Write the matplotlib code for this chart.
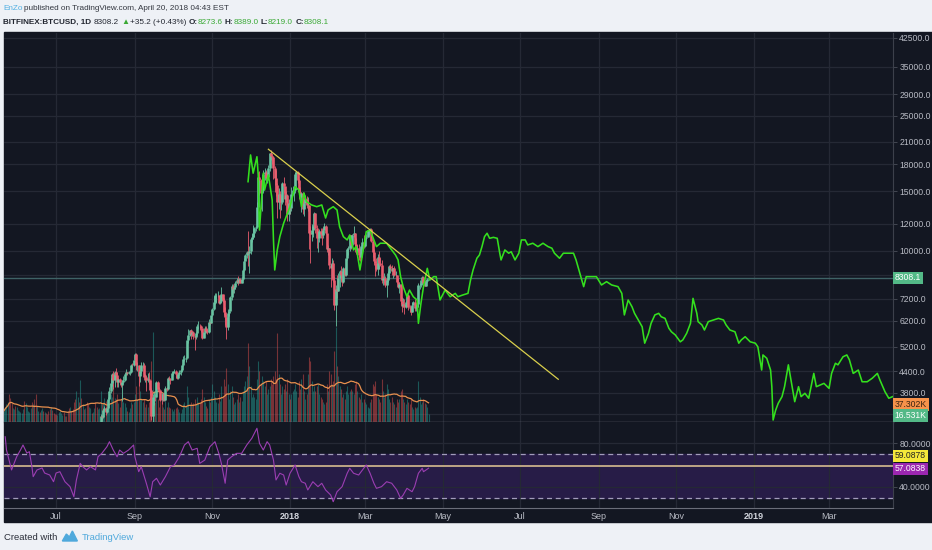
import numpy as np
import pandas as pd
import matplotlib
matplotlib.use('Agg')
import matplotlib.pyplot as plt
import matplotlib.dates as mdates
import matplotlib.transforms as mtransforms
from matplotlib.patches import Rectangle, Polygon
from matplotlib.ticker import FixedLocator, FuncFormatter, NullLocator
from datetime import datetime

W, H = 932, 550
FONT = ['Liberation Sans Narrow', 'Liberation Sans', 'DejaVu Sans']
plt.rcParams['font.family'] = FONT

## daily BTCUSD closes from 2017-05-21 to 2018-04-20
first_day = '2017-05-21'
first_open = 2000
closes = [
    2050, 2150, 2290, 2450, 2320, 2230, 2100, 2200, 2300, 2220, 2420,  # May
    2460, 2500, 2520, 2540, 2870, 2700, 2810, 2840, 2840, 2950,
    2990, 2680, 2740, 2510, 2460, 2500, 2630, 2540, 2610, 2750,
    2700, 2720, 2710, 2610, 2580, 2480, 2580, 2560, 2550, 2480,  # Jun
    2420, 2510, 2580, 2600, 2610, 2610, 2510, 2560, 2510, 2350,
    2340, 2400, 2360, 2230, 1970, 1930, 2230, 2320, 2260, 2870,
    2660, 2840, 2750, 2760, 2580, 2550, 2680, 2800, 2730, 2760, 2880,  # Jul
    2720, 2710, 2800, 2890, 3250, 3220, 3390, 3420, 3340, 3420,
    3650, 3850, 4060, 4330, 4160, 4380, 4280, 4100, 4190, 4090,
    4000, 4100, 4150, 4330, 4370, 4350, 4380, 4380, 4590, 4580, 4740,  # Aug
    4950, 4580, 4600, 4250, 4400, 4600, 4600, 4230, 4230, 4160,
    4190, 4150, 3870, 3240, 3700, 3700, 3690, 4100, 3900, 3880,
    3620, 3610, 3790, 3630, 3930, 3890, 4210, 4190, 4160, 4340,  # Sep
    4400, 4410, 4310, 4220, 4320, 4370, 4440, 4610, 4780, 4780,
    4830, 5440, 5640, 5830, 5680, 5750, 5600, 5570, 5700, 6000,
    6000, 5980, 5900, 5520, 5750, 5900, 5780, 5750, 6150, 6130, 6450,  # Oct
    6740, 7030, 7380, 7400, 7400, 7000, 7120, 7450, 7140, 6610,
    6350, 5950, 6560, 6620, 7300, 7850, 7700, 7790, 8040, 8200,
    8100, 8250, 8040, 8250, 8750, 9300, 9730, 9900, 9840, 9950,  # Nov
    10850, 10950, 11280, 11700, 11720, 13500, 16500, 16200, 14800, 15100,
    16800, 17100, 16400, 16500, 17600, 19400, 19100, 18900, 17500, 16400,
    15600, 13900, 14700, 13900, 13900, 15800, 15500, 14200, 14600, 12800, 13850,  # Dec
    13400, 14750, 15100, 15150, 16900, 17100, 16200, 14900, 14450, 14850,
    13250, 13800, 14200, 13600, 13600, 11300, 11200, 11500, 11800, 12900,
    11700, 10900, 10900, 11400, 11200, 11100, 11500, 11800, 11300, 10100, 10200,  # Jan
    9100, 8900, 9200, 8200, 6900, 7700, 7600, 8300, 8700, 8500,
    8100, 8900, 8500, 9500, 10100, 10200, 11100, 10400, 11100, 11300,
    10500, 9900, 10200, 9700, 9600, 10300, 10600, 10300,  # Feb
    10900, 11000, 11500, 11500, 11600, 10700, 9900, 9300, 9200, 8800,
    9600, 9200, 9100, 8200, 8300, 8300, 7900, 8200, 8600, 9000,
    8900, 8700, 8900, 8500, 8500, 8100, 7800, 7950, 7100, 6850, 6950,  # Mar
    6800, 7050, 7400, 6800, 6780, 6600, 6900, 7030, 6770, 6830,
    6950, 7900, 7900, 8000, 8350, 8050, 7890, 8160, 8270, 8308.1,  # Apr
]

## highs / lows of the candles from 2017-08-01
candle_start = 72
highs = [
    2930, 2760, 2820, 2900, 3290, 3280, 3410, 3480, 3450, 3440,
    3700, 3950, 4200, 4350, 4420, 4400, 4490, 4380, 4200, 4200,
    4100, 4160, 4270, 4360, 4460, 4380, 4420, 4400, 4620, 4650, 4760,
    4980, 4970, 4700, 4600, 4450, 4700, 4700, 4660, 4330, 4300,
    4360, 4380, 4160, 3930, 3760, 3820, 3770, 4120, 4120, 3950,
    3880, 3760, 3800, 3800, 3970, 3950, 4240, 4260, 4210, 4370,
    4420, 4480, 4440, 4350, 4360, 4440, 4470, 4620, 4880, 4920,
    4860, 5450, 5860, 5850, 5860, 5800, 5780, 5600, 5740, 6080,
    6200, 6090, 6050, 5900, 5770, 5990, 6000, 5880, 6300, 6200, 6470,
    6760, 7340, 7500, 7500, 7620, 7420, 7220, 7800, 7450, 7250,
    6800, 6500, 6730, 6720, 7340, 7960, 7990, 7880, 8120, 8300,
    8400, 8300, 8300, 8350, 8800, 9500, 9780, 10000, 11400, 10300,
    10900, 11200, 11900, 11750, 11850, 13900, 17100, 17200, 16300, 15700,
    17300, 17500, 17300, 16900, 17900, 19400, 19890, 19200, 19000, 17800,
    17300, 15900, 15300, 15000, 14500, 16000, 16500, 15500, 15000, 14700, 14200,
    14000, 15400, 15500, 15350, 17100, 17250, 17150, 16300, 15400, 14900,
    14900, 14100, 14600, 14500, 14400, 13600, 11800, 12000, 11950, 13000,
    12900, 11900, 11400, 11600, 11700, 11700, 11700, 12100, 11900, 11300, 10400,
    10200, 9150, 9500, 9400, 8400, 7900, 8500, 8600, 8750, 9000,
    8500, 8950, 8950, 9500, 10200, 10300, 11100, 11100, 11200, 11800,
    11300, 10900, 10400, 10500, 9900, 10400, 10900, 11100,
    11100, 11200, 11550, 11550, 11700, 11700, 10900, 10100, 9400, 9500,
    9750, 9950, 9500, 9400, 8400, 8600, 8400, 8300, 8700, 9100,
    9150, 9100, 8900, 9000, 8700, 8500, 8300, 8100, 7950, 7300, 7250,
    7200, 7100, 7500, 7450, 6900, 6850, 7050, 7100, 7200, 6900,
    6980, 8000, 8200, 8150, 8400, 8400, 8200, 8200, 8300, 8390,
]
lows = [
    2680, 2650, 2700, 2790, 2880, 3150, 3200, 3360, 3270, 3320,
    3410, 3620, 3800, 3980, 3900, 3950, 4240, 3950, 3950, 4050,
    3950, 3600, 4060, 4130, 4300, 4300, 4330, 4280, 4350, 4510, 4560,
    4700, 4450, 4400, 3980, 4100, 4350, 4510, 4150, 4100, 3850,
    4100, 4050, 3750, 3150, 2970, 3500, 3600, 3690, 3850, 3860,
    3600, 3530, 3600, 3600, 3610, 3850, 3880, 4150, 4040, 4150,
    4280, 4360, 4200, 4180, 4180, 4280, 4300, 4420, 4550, 4720,
    4680, 4820, 5350, 5580, 5500, 5580, 5500, 5100, 5500, 5620,
    5870, 5830, 5770, 5470, 5520, 5700, 5700, 5680, 5700, 6050, 6100,
    6400, 6700, 6980, 7000, 7300, 6950, 6960, 7050, 7060, 6450,
    6050, 5500, 5850, 6420, 6620, 7130, 7500, 7500, 7700, 8000,
    7900, 8050, 8000, 8000, 8200, 8700, 9300, 9500, 9000, 8600,
    9800, 10600, 10800, 11000, 11400, 11650, 13300, 14600, 13300, 13100,
    15000, 16200, 15900, 15900, 16200, 17200, 18500, 18000, 16300, 14900,
    14500, 12500, 13300, 12500, 13200, 13700, 14800, 13600, 13900, 12200, 12200,
    12800, 13100, 14600, 14000, 14800, 16200, 15800, 14200, 14000, 13000,
    12800, 12700, 13800, 13400, 13100, 10100, 9200, 10700, 11000, 11600,
    11300, 10200, 9900, 10600, 10900, 10400, 10900, 11500, 11200, 9900, 9700,
    8800, 7800, 8300, 8100, 6700, 6000, 7250, 7600, 7800, 8200,
    7850, 8000, 8400, 8400, 9400, 9700, 10000, 10100, 10300, 11000,
    10300, 9800, 9600, 9400, 9300, 9400, 10100, 10200,
    10250, 10800, 11000, 11100, 11400, 10600, 9600, 9100, 8400, 8700,
    8500, 8800, 9000, 8000, 7900, 8000, 7800, 7300, 8100, 8300,
    8800, 8500, 8300, 8400, 8400, 8000, 7750, 7500, 6950, 6600, 6800,
    6500, 6750, 7000, 6700, 6600, 6450, 6570, 6900, 6650, 6650,
    6800, 6800, 7700, 7800, 7950, 8000, 7850, 7850, 8100, 8219,
]

## daily volume in thousands of BTC, one line per week starting 2017-05-21
volume = [
    22, 30, 35, 40, 55, 48, 38,
    28, 25, 32, 30, 24, 22, 20,
    18, 25, 42, 38, 30, 22, 20,
    28, 40, 36, 45, 55, 32, 22,
    20, 24, 28, 22, 20, 18, 16,
    22, 25, 30, 24, 18, 16, 15,
    14, 20, 22, 18, 14, 20, 12,
    12, 22, 28, 30, 22, 26, 40,
    45, 60, 50, 40, 82, 48, 35,
    25, 28, 40, 36, 30, 28, 18,
    20, 28, 40, 30, 25, 28, 60,
    35, 40, 48, 42, 30, 40, 45,
    55, 50, 75, 48, 45, 55, 38,
    30, 45, 55, 40, 38, 30, 22,
    20, 28, 40, 35, 40, 55, 70,
    45, 95, 60, 45, 40, 45, 30,
    35, 30, 40, 70, 120, 176, 60,
    40, 55, 45, 30, 55, 40, 30,
    25, 45, 30, 40, 30, 28, 25,
    22, 25, 28, 30, 25, 20, 18,
    25, 35, 40, 32, 70, 50, 35,
    40, 35, 38, 45, 35, 50, 40,
    38, 45, 65, 50, 40, 32, 28,
    45, 40, 50, 75, 60, 50, 40,
    38, 55, 42, 70, 50, 85, 70,
    105, 75, 45, 60, 70, 50, 35,
    40, 45, 55, 40, 50, 42, 60,
    70, 80, 90, 155, 110, 70, 50,
    55, 50, 45, 85, 120, 100, 75,
    90, 80, 70, 80, 55, 65, 70,
    85, 75, 90, 100, 85, 174, 95,
    75, 55, 70, 65, 75, 60, 85,
    55, 45, 55, 60, 65, 75, 60,
    50, 80, 65, 85, 95, 60, 45,
    55, 95, 127, 120, 80, 60, 70,
    60, 70, 75, 55, 50, 45, 40,
    35, 40, 75, 60, 100, 95, 75,
    80, 140, 186, 110, 90, 70, 65,
    50, 55, 45, 60, 70, 55, 60,
    65, 60, 55, 75, 80, 60, 50,
    45, 55, 40, 45, 40, 35, 30,
    28, 40, 45, 75, 70, 80, 55,
    50, 45, 40, 85, 60, 50, 55,
    75, 65, 45, 40, 50, 40, 35,
    30, 45, 40, 45, 60, 65, 45,
    40, 35, 45, 40, 35, 45, 30,
    25, 30, 28, 30, 80, 50, 35,
    40, 45, 38, 35, 30, 16.5,
]

## RSI (days after 2018-01-01)
rsi_days = [
    -224, -223, -219, -215, -212, -210, -207, -205, -203, -202,
    -199, -195, -193, -189, -186, -184, -181, -177, -173, -170,
    -168, -165, -163, -160, -157, -153, -151, -148, -144, -142,
    -139, -136, -134, -131, -127, -123, -122, -119, -117, -113,
    -110, -108, -105, -102, -98, -94, -91, -87, -83, -80,
    -77, -73, -71, -67, -63, -59, -56, -54, -51, -49,
    -46, -42, -38, -34, -30, -26, -24, -21, -18, -16,
    -13, -11, -8, -5, -3, 0, 4, 7, 9, 12,
    14, 18, 22, 25, 28, 32, 34, 37, 41, 45,
    47, 50, 54, 58, 60, 63, 66, 68, 72, 76,
    80, 84, 87, 89, 92, 96, 98, 101, 104, 105, 109,
]
rsi_vals = [
    85.7, 73.6, 55.5, 67.5, 73.6, 78.2, 70.9, 72.1, 58.5, 49.4,
    55.5, 57.3, 52.7, 50.9, 44.8, 52.7, 53.9, 44.8, 40.3, 31.2,
    46.4, 61.5, 58.5, 55.5, 58.5, 55.5, 67.5, 70.6, 76.6, 81.2,
    73.6, 67.5, 73.6, 70.6, 73.6, 78.2, 67.5, 53.9, 58.5, 43.4,
    31.2, 44.8, 47.9, 41.8, 49.4, 58.5, 60.0, 67.5, 78.2, 81.2,
    73.6, 75.2, 61.5, 64.5, 76.6, 81.2, 70.6, 61.5, 43.4, 64.5,
    67.5, 70.6, 70.6, 78.2, 84.3, 93.4, 79.7, 73.6, 81.2, 78.2,
    64.5, 46.4, 52.5, 50.9, 41.8, 52.5, 60.0, 49.4, 44.8, 43.4,
    37.3, 44.8, 40.3, 43.4, 37.3, 32.7, 26.6, 35.7, 40.3, 52.5,
    57.0, 52.5, 50.9, 57.0, 60.0, 52.5, 43.4, 38.8, 40.3, 44.8,
    43.4, 37.3, 29.7, 32.7, 38.8, 35.7, 40.3, 52.5, 57.0, 53.9, 57.08,
]

## green projected path (days after 2018-01-01, price)
proj_days = [
    -33, -31, -29, -26, -25, -24, -21, -20, -17, -14,
    -13, -12, -10, -8, -5, -3, 0, 4, 7, 9,
    11, 13, 17, 21, 25, 28, 30, 34, 37, 39,
    42, 45, 47, 50, 52, 55, 58, 60, 63, 66,
    68, 71, 76, 80, 83, 85, 87, 89, 92, 94,
    97, 100, 101, 103, 105, 108, 110, 113, 115, 118,
    122, 126, 130, 132, 136, 140, 142, 144, 147, 149,
    151, 153, 155, 157, 160, 163, 165, 166, 169, 172,
    174, 177, 180, 182, 185, 187, 191, 195, 199, 203,
    206, 208, 212, 215, 219, 223, 225, 228, 231, 233,
    237, 241, 245, 249, 253, 258, 261, 263, 266, 269,
    271, 274, 277, 279, 282, 284, 287, 290, 292, 295,
    298, 300, 303, 307, 309, 312, 315, 317, 320, 321,
    324, 326, 329, 333, 337, 341, 343, 346, 350, 353,
    355, 358, 362, 366, 368, 371, 372, 375, 378, 379,
    380, 382, 384, 387, 389, 392, 395, 397, 400, 402,
    405, 408, 412, 414, 417, 420, 424, 426, 429, 431,
    435, 438, 440, 443, 447, 450, 454, 458, 462, 464,
    468, 471, 474,
]
proj_prices = [
    15990, 19180, 16940, 18950, 16740, 11510, 16940, 15110, 16740, 14120,
    10760, 8770, 10050, 11000, 12050, 12600, 13490, 15450, 15110, 13490,
    14810, 13960, 13650, 13490, 13650, 12490, 13190, 13490, 13190, 11770,
    11000, 10760, 11130, 10050, 10280, 8770, 10280, 11380, 11510, 10760,
    10280, 10520, 10520, 10050, 9710, 9390, 8380, 7830, 7310, 7650,
    7310, 7150, 6100, 6990, 7830, 8870, 8190, 8380, 8380, 7150,
    7650, 7310, 7480, 7310, 7400, 7480, 8190, 8770, 9500, 9710,
    10280, 11000, 11260, 10880, 10950, 10880, 9830, 9390, 10050, 9830,
    9930, 9390, 9830, 10760, 10760, 10400, 10520, 10280, 10520, 10280,
    10170, 9830, 9500, 9830, 9830, 9830, 9390, 8570, 7830, 8380,
    8380, 8380, 7920, 8100, 7920, 7830, 7480, 6460, 7150, 6830,
    6530, 6240, 5960, 5330, 5700, 6100, 6460, 6530, 6380, 6310,
    5900, 5760, 5640, 5380, 5450, 5700, 6100, 7230, 6530, 6170,
    6035, 5830, 6170, 6240, 6310, 6240, 6035, 5830, 5760, 5330,
    5450, 5570, 5380, 5330, 5200, 4440, 4920, 4810, 4440, 3965,
    3160, 3380, 3540, 3705, 3965, 4600, 3965, 3580, 3965, 3705,
    3790, 3665, 4340, 3965, 4010, 4055, 3920, 4340, 4650, 4600,
    4860, 4920, 4760, 4340, 4440, 4100, 4100, 4200, 4340, 4150,
    3830, 3665, 3705,
]

trend_dates = ['2017-12-15', '2018-07-31']
trend_prices = [19940, 4170]

price_ticks = [3800, 4400, 5200, 6200, 7200, 10000, 12000, 15000,
               18000, 21000, 25000, 29000, 35000, 42500]
extra_grid = [3300, 8500]
rsi_ticks = [40, 80]
month_ticks = ['2017-07-01', '2017-09-01', '2017-11-01', '2018-01-01', '2018-03-01',
               '2018-05-01', '2018-07-01', '2018-09-01', '2018-11-01', '2019-01-01',
               '2019-03-01']
month_labels = ['Jul', 'Sep', 'Nov', '2018', 'Mar', 'May', 'Jul', 'Sep', 'Nov', '2019', 'Mar']

last_close = 8308.1
vol_ma_text = '37.302K'
vol_text = '16.531K'
rsi_level = 59.0878
rsi_last = 57.0838

## colours
BG = '#131722'
GRID = '#252935'
TXT = '#b8bbc4'
UP, DOWN = '#69c3a2', '#e95d6e'

base = mdates.date2num(datetime(2018, 1, 1))
dates = pd.date_range(first_day, periods=len(closes))
x_all = mdates.date2num(dates.to_pydatetime())
closes = np.array(closes, float)
opens = np.r_[first_open, closes[:-1]]
up = closes >= opens
vol = np.array(volume, float)

fig = plt.figure(figsize=(W / 100, H / 100), dpi=100, facecolor='#eef1f6')
panel = Rectangle((4 / W, 1 - 522 / H), 928 / W, 490 / H,
                  transform=fig.transFigure, color=BG, zorder=-10)
fig.add_artist(panel)

##main price pane
ax = fig.add_axes([4 / W, 1 - 422 / H, 889 / W, 389 / H])
ax.set_facecolor(BG)
ax.set_yscale('log')
ax.set_ylim(3118, 43970)
ax.set_xlim(base - 224.95, base + 474.3)
month_x = mdates.datestr2num(month_ticks)

for p in extra_grid:
    ax.axhline(p, color=GRID, lw=0.9, zorder=0.5)

##volume overlay
vt = mtransforms.blended_transform_factory(ax.transData, ax.transAxes)
VOL_TOP = 763.0
ax.vlines(x_all[up], 0, vol[up] / VOL_TOP, transform=vt, colors='#26a69a',
          alpha=0.45, lw=0.8, zorder=1)
ax.vlines(x_all[~up], 0, vol[~up] / VOL_TOP, transform=vt, colors='#ef5350',
          alpha=0.45, lw=0.8, zorder=1)
vol_ma = pd.Series(vol).rolling(20, min_periods=1).mean().values
ax.plot(x_all, vol_ma / VOL_TOP, transform=vt, color='#e8904e', lw=0.9, zorder=2)

##candles
cx = x_all[candle_start:]
co, cc = opens[candle_start:], closes[candle_start:]
ccol = np.where(cc >= co, UP, DOWN)
ax.vlines(cx, lows, highs, colors=ccol, lw=0.6, zorder=3)
ax.vlines(cx, np.minimum(co, cc), np.maximum(co, cc), colors=ccol, lw=1.9, zorder=3)

ax.axhline(last_close, color='#3f6366', lw=1.0, zorder=2.5)

ax.plot(base + np.array(proj_days), proj_prices, color='#34e01e', lw=1.15, zorder=5)
ax.plot(mdates.datestr2num(trend_dates), trend_prices, color='#d9cf4c', lw=0.9, zorder=6)

ax.yaxis.tick_right()
ax.yaxis.set_major_locator(FixedLocator(price_ticks))
ax.yaxis.set_minor_locator(NullLocator())
ax.yaxis.set_major_formatter(FuncFormatter(lambda v, p: f'{v:.1f}'))
ax.tick_params(axis='y', length=3, width=0.6, color='#4a4e59', labelsize=6.2,
               labelcolor=TXT, pad=1.5)
ax.set_xticks(month_x)
ax.tick_params(axis='x', length=0, labelbottom=False)
ax.set_axisbelow(True)
ax.grid(True, color=GRID, lw=0.9)
for s in ['top', 'left']:
    ax.spines[s].set_visible(False)
ax.spines['right'].set_color('#3c404b')
ax.spines['bottom'].set_color('#6a6d78')
ax.spines['bottom'].set_linewidth(1.0)

def side_label(axis, y, text, fc, tc, tr):
    axis.text(1.002, y, text, transform=tr, fontsize=6.2, color=tc, va='center', ha='left',
              bbox=dict(boxstyle='square,pad=0.2', fc=fc, ec='none'),
              clip_on=False, zorder=20)

side_label(ax, last_close, f'{last_close:.1f}', '#53b987', 'white',
           mtransforms.blended_transform_factory(ax.transAxes, ax.transData))
side_label(ax, 0.045, vol_ma_text, '#f7924a', '#3b2210', ax.transAxes)
side_label(ax, 0.017, vol_text, '#53b987', 'white', ax.transAxes)

##RSI pane
rx = fig.add_axes([4 / W, 1 - 508 / H, 889 / W, 86 / H], sharex=ax)
rx.set_facecolor(BG)
rx.set_ylim(20.9, 99.1)
rx.axhspan(30, 70, color='#271c47', zorder=0.2)
rx.axhline(70, color='#a29cbb', lw=0.9, ls=(0, (4, 3)), zorder=2)
rx.axhline(30, color='#a29cbb', lw=0.9, ls=(0, (4, 3)), zorder=2)
rx.axhline(rsi_level, color='#c9b08a', lw=1.3, zorder=2)
rx.plot(base + np.array(rsi_days), rsi_vals, color='#9b3eb2', lw=0.8, zorder=3)

rx.yaxis.tick_right()
rx.yaxis.set_major_locator(FixedLocator(rsi_ticks))
rx.yaxis.set_major_formatter(FuncFormatter(lambda v, p: f'{v:.4f}'))
rx.tick_params(axis='y', length=3, width=0.6, color='#4a4e59', labelsize=6.2,
               labelcolor=TXT, pad=1.5)
rx.set_xticks(month_x)
rx.set_xticklabels(month_labels)
rx.tick_params(axis='x', length=0, pad=3, labelsize=6.5, labelcolor=TXT)
for t in rx.get_xticklabels():
    if t.get_text().isdigit():
        t.set_fontweight('bold')
        t.set_color('#d1d4dc')
rx.set_axisbelow(True)
rx.grid(True, color=GRID, lw=0.9)
for s in ['top', 'left']:
    rx.spines[s].set_visible(False)
rx.spines['right'].set_color('#3c404b')
rx.spines['bottom'].set_color('#6a6d78')

rt = mtransforms.blended_transform_factory(rx.transAxes, rx.transData)
side_label(rx, 68.2, f'{rsi_level:.4f}', '#f5e83a', '#222222', rt)
side_label(rx, 56.4, f'{rsi_last:.4f}', '#9c27b0', 'white', rt)

##header and footer text
renderer = fig.canvas.get_renderer()

def put_pieces(x_px, y_px, pieces, size):
    x = x_px
    for s, col, wt, gap in pieces:
        t = fig.text(x / W, 1 - y_px / H, s, color=col, fontsize=size, fontweight=wt,
                     va='center', ha='left')
        x += t.get_window_extent(renderer).width + gap
    return x

DARK = '#222630'
GREEN = '#3aa935'
put_pieces(3, 8, [('EnZo', '#52b0e3', 'normal', 2),
                  ('published on TradingView.com, April 20, 2018 04:43 EST', '#333740', 'normal', 0)], 5.9)
put_pieces(3, 22, [('BITFINEX:BTCUSD, 1D', DARK, 'bold', 3),
                   ('8308.2', DARK, 'normal', 2),
                   ('\u25b2', GREEN, 'normal', 1),
                   ('+35.2 (+0.43%)', DARK, 'normal', 2),
                   ('O:', DARK, 'bold', 0), ('8273.6', GREEN, 'normal', 2),
                   ('H:', DARK, 'bold', 0), ('8389.0', GREEN, 'normal', 2),
                   ('L:', DARK, 'bold', 0), ('8219.0', GREEN, 'normal', 2),
                   ('C:', DARK, 'bold', 0), ('8308.1', GREEN, 'normal', 0)], 5.9)

xe = put_pieces(4, 537, [('Created with', '#2a2e39', 'normal', 0)], 6.8)
lx = xe + 5
logo = [(lx, 541), (lx + 4, 534), (lx + 7, 537), (lx + 10, 531), (lx + 15, 541)]
fig.add_artist(Polygon([(px / W, 1 - py / H) for px, py in logo], closed=True,
                       transform=fig.transFigure, color='#4fa9dc'))
put_pieces(lx + 19, 537, [('TradingView', '#4fa9dc', 'normal', 0)], 6.8)

plt.savefig('out.png', dpi=100, facecolor=fig.get_facecolor())
